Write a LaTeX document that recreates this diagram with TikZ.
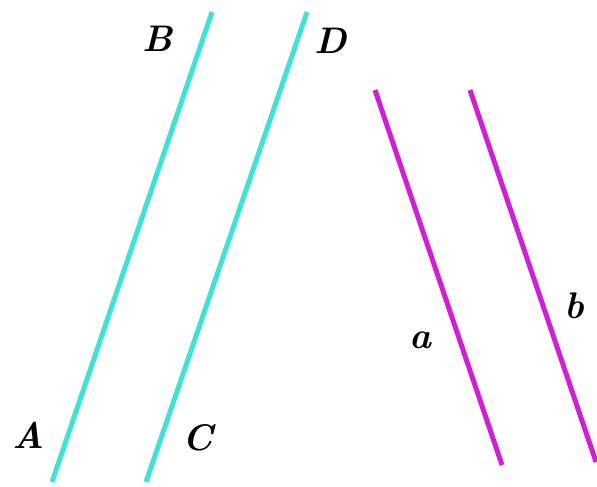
\documentclass[tikz,border=0pt]{standalone}
\definecolor{cyanline}{RGB}{64,226,214}
\definecolor{magline}{RGB}{208,32,212}
\begin{document}
\begin{tikzpicture}[x=1pt,y=-1pt,
  cline/.style={draw=cyanline,line width=5pt},
  mline/.style={draw=magline,line width=5pt},
  lab/.style={font=\fontsize{37}{40}\selectfont\bfseries\itshape,inner sep=0pt}]
\useasboundingbox (0,0) rectangle (597,487);
\coordinate (A) at (52,482);
\coordinate (B) at (212,12);
\coordinate (C) at (146,482);
\coordinate (D) at (307,12);
\coordinate (a1) at (375,90);
\coordinate (a2) at (502,465);
\coordinate (b1) at (470,90);
\coordinate (b2) at (596,462);
\draw[cline] (A) -- (B);
\draw[cline] (C) -- (D);
\draw[mline] (a1) -- (a2);
\draw[mline] (b1) -- (b2);
\node[lab] (lA) at (29,435) {A};
\node[lab] (lB) at (158,39) {B};
\node[lab] (lC) at (198,438) {C};
\node[lab] (lD) at (331,41) {D};
\node[lab] (la) at (420,340) {a};
\node[lab] (lb) at (574,306) {b};
\end{tikzpicture}
\end{document}
